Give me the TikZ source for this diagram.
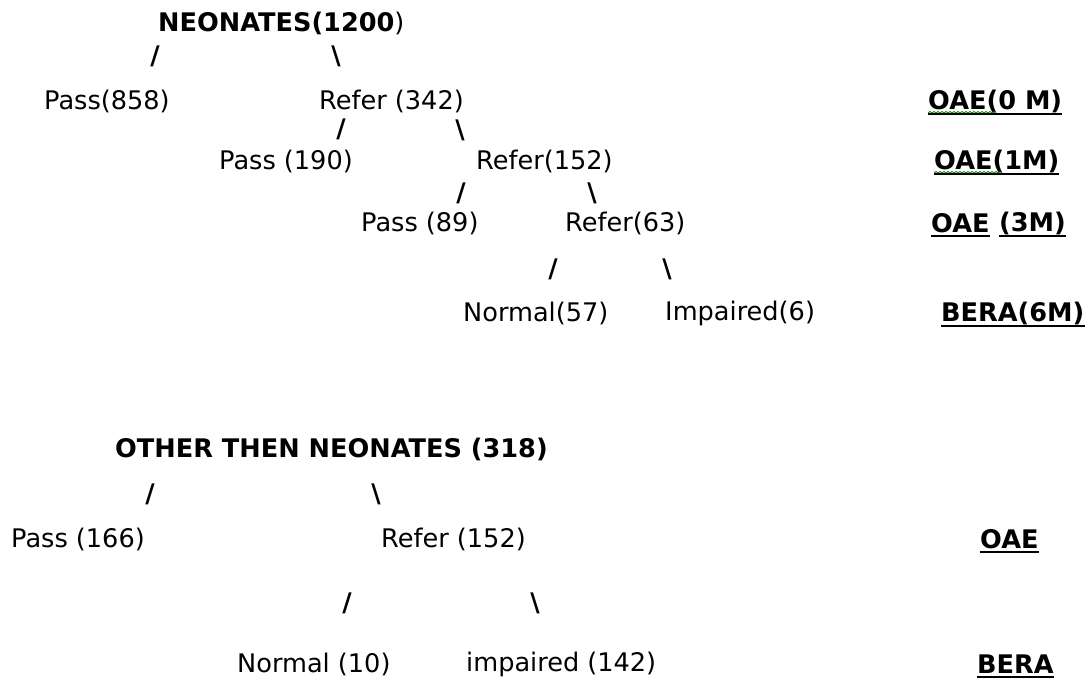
\documentclass[tikz,border=0pt]{standalone}
\usepackage{fontspec}
\setmainfont{DejaVu Sans}
\begin{document}
\begin{tikzpicture}[x=1pt,y=-1pt,
  lbl/.style={inner sep=0pt,anchor=west,font=\fontsize{25.6}{30}\selectfont},
  hd/.style={lbl,font=\fontsize{25.6}{30}\selectfont\bfseries},
  sl/.style={inner sep=0pt,anchor=center,font=\fontsize{25.6}{30}\selectfont\bfseries},
  ul/.style={line width=2.2pt}]
\useasboundingbox (0,0) rectangle (1089,678);
% ---------- neonates tree ----------
\node[hd] (neo) at (158,23) {NEONATES(1200\textmd{)}};
\node[sl] (s1) at (155,56) {/};
\node[sl] (s2) at (336,56) {\textbackslash};
\node[lbl] (p858) at (44,101) {Pass(858)};
\node[lbl] (r342) at (319,101) {Refer (342)};
\node[sl] (s3) at (341,129) {/};
\node[sl] (s4) at (460,130) {\textbackslash};
\node[lbl] (p190) at (219,161) {Pass (190)};
\node[lbl] (r152) at (476,161) {Refer(152)};
\node[sl] (s5) at (461,193) {/};
\node[sl] (s6) at (592,193) {\textbackslash};
\node[lbl] (p89) at (361,223) {Pass (89)};
\node[lbl] (r63) at (565,223) {Refer(63)};
\node[sl] (s7) at (553,269) {/};
\node[sl] (s8) at (667,269) {\textbackslash};
\node[lbl] (n57) at (463,313) {Normal(57)};
\node[lbl] (i6) at (665,313) {Impaired(6)};
% ---------- right labels ----------
\node[hd] (oae0) at (928,101) {OAE(0 M)};
\node[hd] (oae1) at (934,161) {OAE(1M)};
\node[hd] (oae3a) at (931,223) {OAE};
\node[hd] (oae3b) at (999,223) {(3M)};
\node[hd] (bera6) at (941,313) {BERA(6M)};
\node[hd] (oae) at (980,539) {OAE};
\node[hd] (bera) at (977,664) {BERA};
\foreach \n/\y in {oae0/114,oae1/174,oae3a/236,oae3b/236,bera6/326,oae/552,bera/677}
  \draw[ul] (\n.west |- 0,\y) -- (\n.east |- 0,\y);
\draw[green!50!black,line width=0.8pt] (928,113) \foreach \i in {0,...,16}{ -- ++(2,-1.5) -- ++(2,1.5)};
\draw[green!50!black,line width=0.8pt] (934,173) \foreach \i in {0,...,16}{ -- ++(2,-1.5) -- ++(2,1.5)};
% ---------- other than neonates ----------
\node[hd] (oth) at (115,449) {OTHER THEN NEONATES (318)};
\node[sl] (t1) at (150,494) {/};
\node[sl] (t2) at (376,494) {\textbackslash};
\node[lbl] (p166) at (11,539) {Pass (166)};
\node[lbl] (r152b) at (381,539) {Refer (152)};
\node[sl] (t3) at (347,603) {/};
\node[sl] (t4) at (535,603) {\textbackslash};
\node[lbl] (n10) at (237,664) {Normal (10)};
\node[lbl] (i142) at (466,664) {impaired (142)};
\end{tikzpicture}
\end{document}
